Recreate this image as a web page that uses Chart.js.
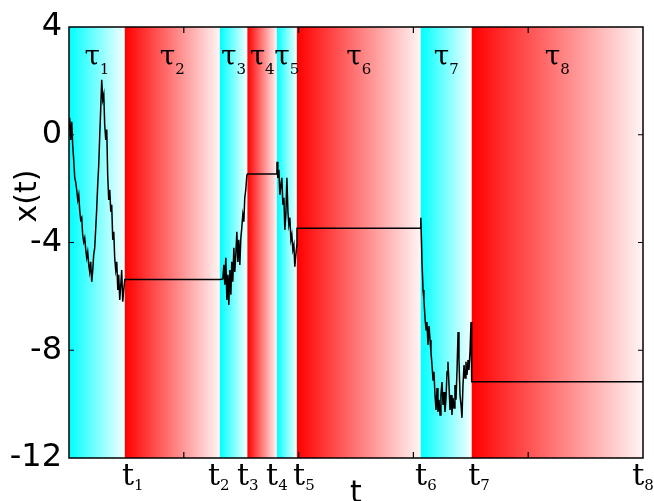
<!DOCTYPE html>
<html>
<head>
<meta charset="utf-8">
<script src="https://cdn.jsdelivr.net/npm/chart.js@4"></script>
<style>
  html, body { margin: 0; padding: 0; background: #fff; }
</style>
</head>
<body>
<canvas id="myChart" width="654" height="501"></canvas>
<script>
// switching times t_0 .. t_8 (band edges)
const switchTimes = [0, 0.486, 1.314, 1.554, 1.811, 1.985, 3.064, 3.508, 5];
const bandKinds = ["cyan", "red", "cyan", "red", "cyan", "red", "cyan", "red"];
const bandNames = ["1", "2", "3", "4", "5", "6", "7", "8"];
const tickNames = ["1", "2", "3", "4", "5", "6", "7", "8"];
const tickNameAt = [0.555, 1.305, 1.558, 1.811, 2.046, 3.109, 3.571, 5.0];
const yTickValues = [4, 0, -4, -8, -12];

// trajectory x(t)
const pathT = [
  // tau1 (diffusing)
  0.002, 0.006, 0.015, 0.024, 0.032, 0.041, 0.050, 0.058, 0.067, 0.076,
  0.085, 0.093, 0.102, 0.111, 0.119, 0.128, 0.137, 0.146, 0.154, 0.163,
  0.172, 0.180, 0.189, 0.198, 0.207, 0.215, 0.224, 0.233, 0.241, 0.250,
  0.259, 0.268, 0.276, 0.285, 0.294, 0.303, 0.311, 0.320, 0.329, 0.337,
  0.346, 0.355, 0.364, 0.372, 0.381, 0.390, 0.398, 0.407, 0.416, 0.425,
  0.433, 0.442, 0.451, 0.459, 0.468, 0.477, 0.486,
  // tau2 (resting)
  1.314,
  // tau3
  1.340, 1.349, 1.357, 1.366, 1.375, 1.384, 1.392, 1.401, 1.410, 1.418,
  1.427, 1.436, 1.444, 1.453, 1.462, 1.471, 1.479, 1.488, 1.497, 1.505,
  1.514, 1.523, 1.531, 1.540, 1.549, 1.554,
  // tau4
  1.811,
  // tau5
  1.812, 1.819, 1.828, 1.837, 1.846, 1.854, 1.863, 1.872, 1.880, 1.889,
  1.898, 1.907, 1.915, 1.924, 1.933, 1.941, 1.950, 1.959, 1.967, 1.976,
  1.985, 1.986,
  // tau6
  3.064,
  // tau7
  3.065, 3.070, 3.075, 3.084, 3.092, 3.101, 3.110, 3.118, 3.127, 3.136,
  3.145, 3.153, 3.162, 3.171, 3.179, 3.188, 3.197, 3.206, 3.214, 3.223,
  3.232, 3.240, 3.249, 3.258, 3.267, 3.275, 3.284, 3.293, 3.301, 3.310,
  3.319, 3.328, 3.336, 3.345, 3.354, 3.362, 3.371, 3.380, 3.389, 3.397,
  3.406, 3.415, 3.423, 3.432, 3.441, 3.450, 3.458, 3.467, 3.476, 3.484,
  3.493, 3.502, 3.508,
  // tau8
  5.0
];
const pathX = [
  0.19, 0.63, -0.19, 0.48, -0.37, -0.93, -1.60, -1.75, -2.04, -2.42,
  -2.23, -2.79, -3.16, -3.08, -3.72, -3.98, -3.83, -4.27, -4.57, -4.35,
  -4.83, -5.09, -4.72, -5.46, -5.02, -4.46, -4.20, -3.46, -2.79, -1.86,
  -1.12, 0.00, 0.93, 2.04, 1.30, 1.49, 0.37, -0.19, 0.19, -1.49,
  -2.42, -2.04, -2.86, -2.60, -3.90, -3.60, -4.57, -5.02, -4.72, -5.76,
  -5.20, -6.13, -5.57, -5.02, -6.20, -5.76, -5.37,
  -5.37,
  -5.35, -4.83, -5.57, -4.57, -6.13, -5.20, -6.32, -5.02, -5.94, -4.72,
  -5.46, -4.20, -5.09, -4.46, -3.60, -4.72, -3.90, -4.83, -3.83, -3.46,
  -2.97, -3.23, -2.34, -2.04, -1.52, -1.46,
  -1.46,
  -1.00, -1.60, -1.30, -2.23, -1.86, -1.60, -2.60, -2.34, -3.53, -2.97,
  -1.60, -2.86, -3.34, -3.08, -3.90, -3.72, -4.27, -4.09, -4.90, -4.46,
  -4.09, -3.47,
  -3.47,
  -3.08, -3.90, -4.72, -5.76, -6.13, -6.80, -7.24, -6.95, -7.80, -7.10,
  -7.62, -8.06, -8.55, -9.10, -8.80, -9.66, -10.22, -9.40, -10.29, -9.84,
  -10.40, -9.66, -9.18, -10.03, -9.55, -10.29, -9.77, -8.80, -8.43, -9.29,
  -10.22, -9.66, -10.40, -9.77, -10.14, -9.29, -9.84, -8.73, -7.32, -8.36,
  -9.66, -10.03, -10.51, -9.29, -8.55, -9.03, -8.43, -8.92, -8.36, -8.73,
  -8.06, -6.95, -9.17,
  -9.17
];

const drawSub = (ctx, main, sub, cx, base, bigFont, smallFont, drop) => {
  ctx.font = bigFont;
  const w1 = ctx.measureText(main).width;
  ctx.font = smallFont;
  const w2 = ctx.measureText(sub).width;
  const left = cx - (w1 + w2) / 2;
  ctx.textAlign = "left";
  ctx.textBaseline = "alphabetic";
  ctx.font = bigFont;
  ctx.fillText(main, left, base);
  ctx.font = smallFont;
  ctx.fillText(sub, left + w1, base + drop);
};

const bandsPlugin = {
  id: "bands",
  beforeDatasetsDraw(chart) {
    const { ctx, chartArea, scales } = chart;
    const { top, bottom } = chartArea;
    ctx.save();
    for (let i = 0; i < bandKinds.length; i++) {
      const x0 = scales.x.getPixelForValue(switchTimes[i]);
      const x1 = scales.x.getPixelForValue(switchTimes[i + 1]);
      const g = ctx.createLinearGradient(x0, 0, x1, 0);
      if (bandKinds[i] === "cyan") {
        g.addColorStop(0, "rgb(0,255,255)");
        g.addColorStop(1, "rgb(245,255,255)");
      } else {
        g.addColorStop(0, "rgb(255,0,0)");
        g.addColorStop(1, "rgb(255,245,245)");
      }
      ctx.fillStyle = g;
      ctx.fillRect(x0, top, x1 - x0, bottom - top);
    }
    ctx.restore();
  },
  afterDatasetsDraw(chart) {
    const { ctx, chartArea, scales } = chart;
    const { left, right, top, bottom } = chartArea;
    ctx.save();
    ctx.strokeStyle = "#000";
    ctx.lineWidth = 1.5;
    ctx.strokeRect(left, top, right - left, bottom - top);

    // inward tick marks
    ctx.lineWidth = 1.2;
    ctx.beginPath();
    scales.x.ticks.forEach((t) => {
      if (t.value <= scales.x.min || t.value >= scales.x.max) return;
      const px = scales.x.getPixelForValue(t.value);
      ctx.moveTo(px, bottom);
      ctx.lineTo(px, bottom - 6);
      ctx.moveTo(px, top);
      ctx.lineTo(px, top + 6);
    });
    scales.y.ticks.forEach((t) => {
      if (t.value <= scales.y.min || t.value >= scales.y.max) return;
      const py = scales.y.getPixelForValue(t.value);
      ctx.moveTo(left, py);
      ctx.lineTo(left + 5, py);
      ctx.moveTo(right, py);
      ctx.lineTo(right - 5, py);
    });
    ctx.stroke();

    ctx.fillStyle = "#000";
    // tau labels in the middle of each band
    for (let i = 0; i < bandNames.length; i++) {
      const cx = scales.x.getPixelForValue((switchTimes[i] + switchTimes[i + 1]) / 2);
      drawSub(ctx, "τ", bandNames[i], cx, 65, "28px 'DejaVu Serif'", "15px 'DejaVu Serif'", 9);
    }
    // switching-time labels under the axis
    for (let i = 0; i < tickNames.length; i++) {
      const cx = scales.x.getPixelForValue(tickNameAt[i]);
      drawSub(ctx, "t", tickNames[i], cx, 485, "30px 'DejaVu Serif'", "15px 'DejaVu Serif'", 5);
    }
    // axis titles
    ctx.font = "30px 'DejaVu Sans'";
    ctx.textAlign = "center";
    ctx.textBaseline = "alphabetic";
    ctx.fillText("t", (left + right) / 2, 502);
    ctx.translate(36, 196);
    ctx.rotate(-Math.PI / 2);
    ctx.fillText("x(t)", 0, 0);
    ctx.restore();
  }
};

const ctx = document.querySelector("#myChart");
new Chart(ctx, {
  type: "line",
  data: {
    datasets: [
      {
        data: pathT.map((t, i) => ({ x: t, y: pathX[i] })),
        borderColor: "#000",
        borderWidth: 1.5,
        pointRadius: 0,
        tension: 0,
        fill: false,
      },
    ],
  },
  options: {
    responsive: false,
    animation: false,
    layout: { padding: { top: 27, right: 11, left: 0, bottom: 0 } },
    plugins: { legend: { display: false }, tooltip: { enabled: false } },
    scales: {
      x: {
        type: "linear",
        min: 0,
        max: 5,
        ticks: { stepSize: 1, display: false },
        grid: { display: false, drawTicks: false },
        border: { display: false },
        afterFit: (scale) => {
          scale.height = 43;
        },
      },
      y: {
        min: -12,
        max: 4,
        afterBuildTicks: (scale) => {
          scale.ticks = yTickValues.map((v) => ({ value: v }));
        },
        ticks: {
          color: "#000",
          padding: 7,
          font: { family: "DejaVu Sans", size: 32 },
        },
        grid: { display: false, drawTicks: false },
        border: { display: false },
        afterFit: (scale) => {
          scale.width = 69;
        },
      },
    },
  },
  plugins: [bandsPlugin],
});
</script>
</body>
</html>
